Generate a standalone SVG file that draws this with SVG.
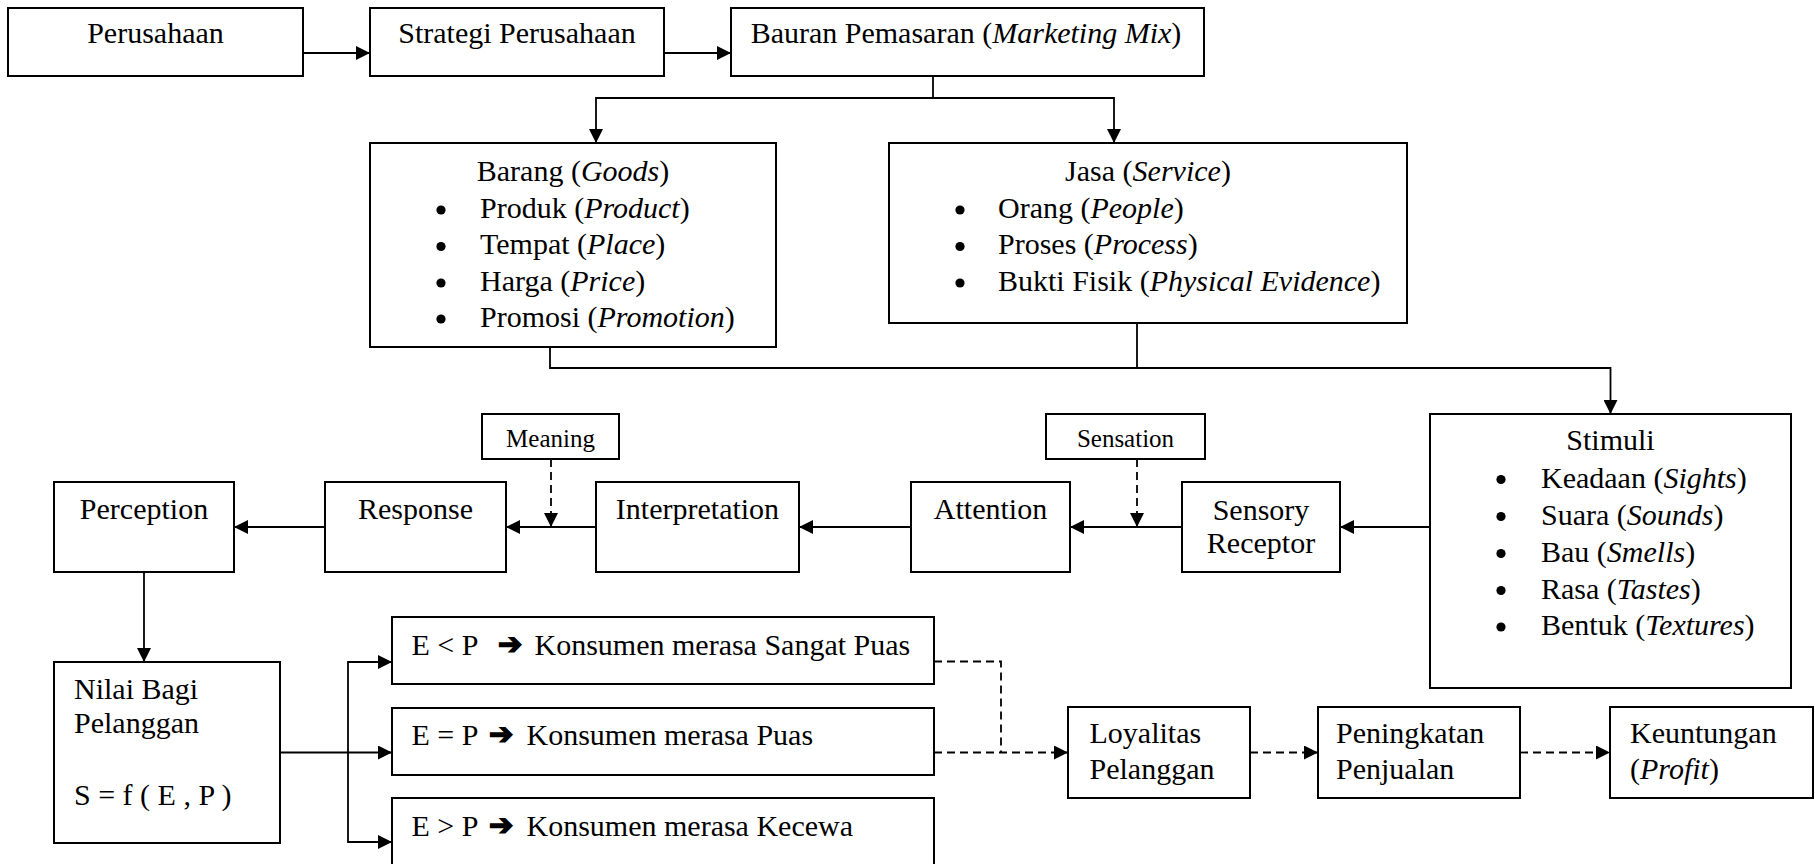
<svg xmlns="http://www.w3.org/2000/svg" width="1815" height="864" viewBox="0 0 1815 864">
<defs>
<marker id="ah" markerUnits="userSpaceOnUse" markerWidth="14" markerHeight="14" refX="14" refY="7" orient="auto"><path d="M0,0 L14,7 L0,14 z" fill="#000"/></marker>
<style>
.box{fill:#fff;stroke:#000;stroke-width:2}
.ln{fill:none;stroke:#000;stroke-width:1.8}
.dash{fill:none;stroke:#000;stroke-width:1.8;stroke-dasharray:8 5}
.bul{fill:#000}
text{font-family:"Liberation Serif","Times New Roman",serif;font-size:30px;fill:#000}
.sm{font-size:25px}
.c{text-anchor:middle}
.i{font-style:italic}
.sym{font-family:"DejaVu Sans",sans-serif;font-size:29px;stroke:#000;stroke-width:1.6}
</style>
</defs>
<rect width="1815" height="864" fill="#fff"/>
<g id="connectors">
<path class="ln" d="M303,53 H370" marker-end="url(#ah)"/>
<path class="ln" d="M664,53 H731" marker-end="url(#ah)"/>
<path class="ln" d="M933,76 V98 H596 V143" marker-end="url(#ah)"/>
<path class="ln" d="M933,98 H1114 V143" marker-end="url(#ah)"/>
<path class="ln" d="M550,347 V368 H1610.5 V414" marker-end="url(#ah)"/>
<path class="ln" d="M1137,323 V368"/>
<path class="ln" d="M1430,527 H1340" marker-end="url(#ah)"/>
<path class="ln" d="M1182,527 H1070" marker-end="url(#ah)"/>
<path class="dash" d="M1137,459 V527" marker-end="url(#ah)"/>
<path class="ln" d="M911,527 H799" marker-end="url(#ah)"/>
<path class="ln" d="M596,527 H506" marker-end="url(#ah)"/>
<path class="dash" d="M551,459 V527" marker-end="url(#ah)"/>
<path class="ln" d="M325,527 H234" marker-end="url(#ah)"/>
<path class="ln" d="M144,572 V662" marker-end="url(#ah)"/>
<path class="ln" d="M280,752.5 H392" marker-end="url(#ah)"/>
<path class="ln" d="M348,752.5 V662 H392" marker-end="url(#ah)"/>
<path class="ln" d="M348,752.5 V842 H392" marker-end="url(#ah)"/>
<path class="dash" d="M934,661.5 H1001 V752.5"/>
<path class="dash" d="M934,752.5 H1068" marker-end="url(#ah)"/>
<path class="dash" d="M1250,752.5 H1318" marker-end="url(#ah)"/>
<path class="dash" d="M1520,752.5 H1610" marker-end="url(#ah)"/>
</g>
<g id="perusahaan"><rect class="box" x="8" y="8" width="295" height="68"/><text class="c" x="155.5" y="43">Perusahaan</text></g>
<g id="strategi"><rect class="box" x="370" y="8" width="294" height="68"/><text class="c" x="517" y="43">Strategi Perusahaan</text></g>
<g id="bauran"><rect class="box" x="731" y="8" width="473" height="68"/><text class="c" x="966" y="43">Bauran Pemasaran (<tspan class="i">Marketing Mix</tspan>)</text></g>
<g id="barang"><rect class="box" x="370" y="143" width="406" height="204"/>
<text class="c" x="573" y="180.5">Barang (<tspan class="i">Goods</tspan>)</text>
<circle class="bul" cx="441" cy="210" r="4.6"/><text x="480" y="217.5">Produk (<tspan class="i">Product</tspan>)</text>
<circle class="bul" cx="441" cy="246.5" r="4.6"/><text x="480" y="254">Tempat (<tspan class="i">Place</tspan>)</text>
<circle class="bul" cx="441" cy="283" r="4.6"/><text x="480" y="290.5">Harga (<tspan class="i">Price</tspan>)</text>
<circle class="bul" cx="441" cy="319" r="4.6"/><text x="480" y="327">Promosi (<tspan class="i">Promotion</tspan>)</text>
</g>
<g id="jasa"><rect class="box" x="889" y="143" width="518" height="180"/>
<text class="c" x="1148" y="180.5">Jasa (<tspan class="i">Service</tspan>)</text>
<circle class="bul" cx="960" cy="210" r="4.6"/><text x="998" y="217.5">Orang (<tspan class="i">People</tspan>)</text>
<circle class="bul" cx="960" cy="246.5" r="4.6"/><text x="998" y="254">Proses (<tspan class="i">Process</tspan>)</text>
<circle class="bul" cx="960" cy="283" r="4.6"/><text x="998" y="290.5">Bukti Fisik (<tspan class="i">Physical Evidence</tspan>)</text>
</g>
<g id="stimuli"><rect class="box" x="1430" y="414" width="361" height="274"/>
<text class="c" x="1610.5" y="449.5">Stimuli</text>
<circle class="bul" cx="1501" cy="479.5" r="4.6"/><text x="1541" y="487.5">Keadaan (<tspan class="i">Sights</tspan>)</text>
<circle class="bul" cx="1501" cy="516.5" r="4.6"/><text x="1541" y="524.5">Suara (<tspan class="i">Sounds</tspan>)</text>
<circle class="bul" cx="1501" cy="553.5" r="4.6"/><text x="1541" y="561.5">Bau (<tspan class="i">Smells</tspan>)</text>
<circle class="bul" cx="1501" cy="590.5" r="4.6"/><text x="1541" y="598.5">Rasa (<tspan class="i">Tastes</tspan>)</text>
<circle class="bul" cx="1501" cy="627" r="4.6"/><text x="1541" y="635">Bentuk (<tspan class="i">Textures</tspan>)</text>
</g>
<g id="meaning"><rect class="box" x="482" y="414" width="137" height="45"/><text class="c sm" x="550.5" y="446.5">Meaning</text></g>
<g id="sensation"><rect class="box" x="1046" y="414" width="159" height="45"/><text class="c sm" x="1125.5" y="446.5">Sensation</text></g>
<g id="perception"><rect class="box" x="54" y="482" width="180" height="90"/><text class="c" x="144" y="519">Perception</text></g>
<g id="response"><rect class="box" x="325" y="482" width="181" height="90"/><text class="c" x="415.5" y="519">Response</text></g>
<g id="interpretation"><rect class="box" x="596" y="482" width="203" height="90"/><text class="c" x="697.5" y="519">Interpretation</text></g>
<g id="attention"><rect class="box" x="911" y="482" width="159" height="90"/><text class="c" x="990.5" y="519">Attention</text></g>
<g id="sensory"><rect class="box" x="1182" y="482" width="158" height="90"/><text class="c" x="1261" y="519.5">Sensory</text><text class="c" x="1261" y="553">Receptor</text></g>
<g id="nilai"><rect class="box" x="54" y="662" width="226" height="181"/>
<text x="74" y="699">Nilai Bagi</text><text x="74" y="733">Pelanggan</text><text x="74" y="804.5">S = f ( E , P )</text></g>
<g id="e-lt-p"><rect class="box" x="392" y="617" width="542" height="67"/><text x="411.5" y="655">E &lt; P</text><text class="sym" x="498" y="654">➔</text><text x="534.5" y="655">Konsumen merasa Sangat Puas</text></g>
<g id="e-eq-p"><rect class="box" x="392" y="708" width="542" height="67"/><text x="411.5" y="745">E = P</text><text class="sym" x="489" y="744">➔</text><text x="526.5" y="745">Konsumen merasa Puas</text></g>
<g id="e-gt-p"><rect class="box" x="392" y="798" width="542" height="80"/><text x="411.5" y="835.5">E &gt; P</text><text class="sym" x="489" y="834.5">➔</text><text x="526.5" y="835.5">Konsumen merasa Kecewa</text></g>
<g id="loyalitas"><rect class="box" x="1068" y="707" width="182" height="91"/><text x="1089.5" y="743">Loyalitas</text><text x="1089.5" y="779">Pelanggan</text></g>
<g id="peningkatan"><rect class="box" x="1318" y="707" width="202" height="91"/><text x="1336" y="743">Peningkatan</text><text x="1336" y="779">Penjualan</text></g>
<g id="keuntungan"><rect class="box" x="1610" y="707" width="203" height="91"/><text x="1630" y="743">Keuntungan</text><text x="1630" y="779">(<tspan class="i">Profit</tspan>)</text></g>
</svg>
